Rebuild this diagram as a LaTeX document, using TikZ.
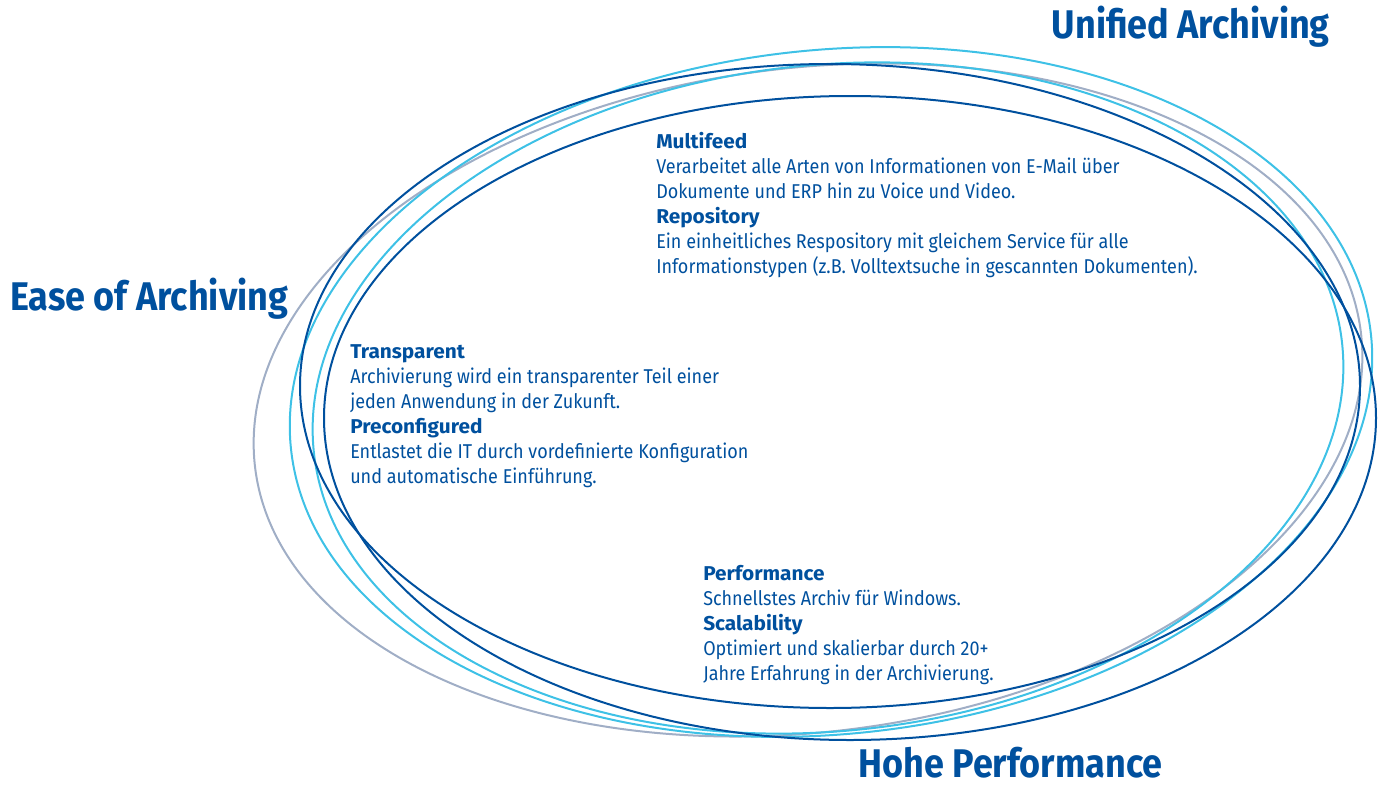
\documentclass[tikz,border=0pt]{standalone}
\usepackage{fontspec}
\setmainfont{Fira Sans}[FakeStretch=0.90]
\newfontfamily\topicfont{Fira Sans}[FakeStretch=1.04]
\definecolor{archblue}{RGB}{0,80,158}
\definecolor{archcyan}{RGB}{62,193,230}
\definecolor{archgrey}{RGB}{160,174,198}
\tikzset{
  ring/.style={line width=1.5pt},
  darkring/.style={ring, draw=archblue},
  cyanring/.style={ring, draw=archcyan},
  greyring/.style={ring, draw=archgrey},
  claim/.style={text=archblue, inner sep=0pt, font=\bfseries\fontsize{30}{36}\selectfont},
  blurb/.style={anchor=north west, align=left, text=archblue, inner sep=0pt, font=\fontsize{15}{18.75}\selectfont},
}
\newcommand{\topic}[1]{{\topicfont\bfseries #1}}
\begin{document}
\begin{tikzpicture}[x=0.75pt,y=0.75pt,yscale=-1]
\path[use as bounding box] (0,0) rectangle (1382,785);

%Shape: Ellipse grey
\draw[greyring, rotate around={-7:(808,400)}] (808,400) ellipse [x radius=557, y radius=332];
%Shape: Ellipse cyan outer
\draw[cyanring, rotate around={-6:(831,392)}] (831,392) ellipse [x radius=543, y radius=342];
%Shape: Ellipse cyan inner
\draw[cyanring, rotate around={-6:(828,398)}] (828,398) ellipse [x radius=517, y radius=333];
%Shape: Ellipse dark upper
\draw[darkring] (830,386) ellipse [x radius=530, y radius=322];
%Shape: Ellipse dark lower
\draw[darkring] (850,418) ellipse [x radius=526, y radius=322];

% Text Node
\node[claim, anchor=base east] (unified) at (1330,38) {Unified Archiving};
% Text Node
\node[claim, anchor=base west] (ease) at (10,310) {Ease of Archiving};
% Text Node
\node[claim, anchor=base west] (hohe) at (858,777) {Hohe Performance};

% Text Node
\node[blurb] (multifeed) at (656,132) {\topic{Multifeed}\\
Verarbeitet alle Arten von Informationen von E-Mail über\\
Dokumente und ERP hin zu Voice und Video.\\
\topic{Repository}\\
Ein einheitliches Respository mit gleichem Service für alle\\
Informationstypen (z.B. Volltextsuche in gescannten Dokumenten).};
% Text Node
\node[blurb] (transparent) at (350,344) {\topic{Transparent}\\
Archivierung wird ein transparenter Teil einer\\
jeden Anwendung in der Zukunft.\\
\topic{Preconfigured}\\
Entlastet die IT durch vordefinierte Konfiguration\\
und automatische Einführung.};
% Text Node
\node[blurb] (performance) at (703,565) {\topic{Performance}\\
Schnellstes Archiv für Windows.\\
\topic{Scalability}\\
Optimiert und skalierbar durch 20+\\
Jahre Erfahrung in der Archivierung.};

\end{tikzpicture}
\end{document}
